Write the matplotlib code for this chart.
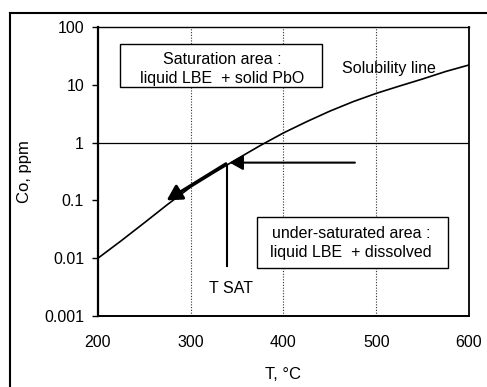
import numpy as np
import matplotlib
matplotlib.use("Agg")
import matplotlib.pyplot as plt
from matplotlib.lines import Line2D
from matplotlib.patches import Rectangle

plt.rcParams['font.family'] = ['Liberation Sans', 'DejaVu Sans']

# solubility line
temps = [200, 225, 250, 275, 300, 325, 350, 375, 400, 425, 450, 475, 500, 525, 550, 575, 600]
conc = [0.01, 0.02, 0.041, 0.085, 0.17, 0.30, 0.52, 0.89, 1.47, 2.3, 3.5, 5.1, 7.1, 9.5, 12.6, 17, 22]
xticks = [200, 300, 400, 500, 600]
yticks = [0.001, 0.01, 0.1, 1, 10, 100]
ylabels = ["0.001", "0.01", "0.1", "1", "10", "100"]

# T SAT marker and arrows
t_sat = 339
t_sat_range = [0.39, 0.0073]
arrow_down = ((338, 0.43), (274, 0.10))
arrow_left = ((477, 0.45), (342, 0.45))

fs = 11.5

fig = plt.figure(figsize=(4.87, 3.87), dpi=100)
ax = fig.add_axes([0.2012, 0.1835, 0.7618, 0.7468])

ax.set_yscale('log')
ax.set_xlim(200, 600)
ax.set_ylim(0.001, 100)

for t in [300, 400, 500]:
    ax.axvline(t, color='#333333', lw=0.8, ls=(0, (1, 1.5)), zorder=1)
ax.axhline(1, color='black', lw=0.9, zorder=1)

ax.plot(temps, conc, color='black', lw=1.2, zorder=3)

ax.plot([t_sat, t_sat], t_sat_range, color='black', lw=1.5, zorder=3)

ax.annotate("", xy=arrow_down[1], xytext=arrow_down[0],
            arrowprops=dict(arrowstyle='-|>,head_length=0.9,head_width=0.5',
                            color='black', lw=2.2, shrinkA=0, shrinkB=0),
            zorder=4)
ax.annotate("", xy=arrow_left[1], xytext=arrow_left[0],
            arrowprops=dict(arrowstyle='-|>,head_length=0.8,head_width=0.45',
                            color='black', lw=1.5, shrinkA=0, shrinkB=0),
            zorder=4)

ax.set_xticks(xticks)
ax.set_xticklabels([str(t) for t in xticks], fontsize=fs)
ax.set_yticks(yticks)
ax.set_yticklabels(ylabels, fontsize=fs)
ax.minorticks_off()
ax.tick_params(axis='x', length=0, pad=14)
ax.tick_params(axis='y', length=4, width=1, direction='out', pad=6)

ax.spines['left'].set_linewidth(1.6)
ax.spines['bottom'].set_linewidth(1.4)
ax.spines['top'].set_linewidth(1.0)
ax.spines['right'].set_linewidth(1.3)

ax.set_xlabel("T, °C", fontsize=12, labelpad=12)
ax.set_ylabel("Co, ppm", fontsize=12)
ax.yaxis.set_label_coords(-0.178, 0.5)

# text boxes
ax.add_patch(Rectangle((0.0593, 0.792), 0.5445, 0.149, transform=ax.transAxes,
                       facecolor='white', edgecolor='black', lw=1, zorder=5))
ax.add_patch(Rectangle((0.4286, 0.166), 0.5148, 0.1766, transform=ax.transAxes,
                       facecolor='white', edgecolor='black', lw=1, zorder=5))
ax.text(0.3356, 0.855, "Saturation area :\nliquid LBE  + solid PbO",
        transform=ax.transAxes, ha='center', va='center', fontsize=fs,
        linespacing=1.35, zorder=6)
ax.text(0.682, 0.252, "under-saturated area :\nliquid LBE  + dissolved",
        transform=ax.transAxes, ha='center', va='center', fontsize=fs,
        linespacing=1.35, zorder=6)
ax.text(0.658, 0.858, "Solubility line", transform=ax.transAxes,
        ha='left', va='center', fontsize=fs)
ax.text(0.358, 0.0934, "T SAT", transform=ax.transAxes,
        ha='center', va='center', fontsize=fs)

# outer frame of the scanned figure
fig.add_artist(Line2D([10 / 487, 1.0], [1 - 13 / 387] * 2, color='black', lw=1.5))
fig.add_artist(Line2D([10 / 487] * 2, [0.0, 1 - 13 / 387], color='black', lw=1.5))

fig.savefig("out.png", dpi=100)
